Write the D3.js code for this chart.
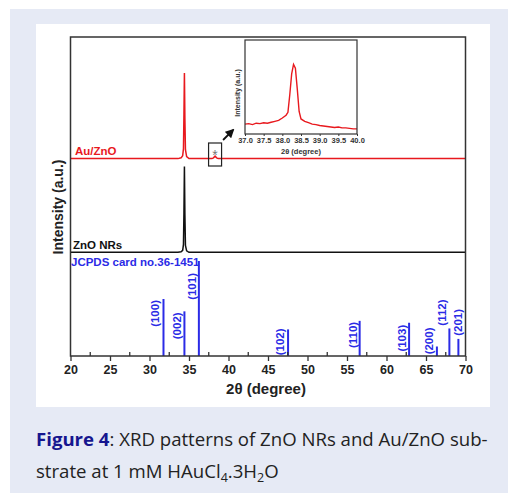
<!DOCTYPE html>
<html>
<head>
<meta charset="utf-8">
<script src="https://cdn.jsdelivr.net/npm/d3@7"></script>
<style>
  body { margin: 0; background: #fff; }
  text { font-family: "Liberation Sans", Arial, sans-serif; }
</style>
</head>
<body>
<svg id="fig" width="508" height="493"></svg>
<script>
// ---- data ----
// main XRD traces (2theta in degree, intensity a.u. before stacking offset)
var mainTheta   = [20, 33.6, 34.0, 34.2, 34.3, 34.36, 34.42, 34.48, 34.55, 34.7, 35.0, 37.9, 38.1, 38.3, 38.5, 38.7, 70];
var znoNRs      = [0, 0, 0.5, 2, 8, 40, 86, 38, 7, 1.5, 0, 0, 0, 0, 0, 0, 0];
var auZnO       = [0, 0, 0.8, 3, 10, 44, 86, 40, 9, 2, 0, 0, 0.8, 2.5, 0.8, 0, 0];
var znoOffset = 104, auOffset = 198;

// JCPDS card no.36-1451 reference lines
var refTheta = [31.77, 34.42, 36.25, 47.54, 56.60, 62.86, 66.38, 67.96, 69.10];
var refInt   = [60, 47, 100, 28, 37, 35, 10, 29, 18];
var refHkl   = ["(100)", "(002)", "(101)", "(102)", "(110)", "(103)", "(200)", "(112)", "(201)"];

// inset: Au(111) region
var insetTheta = [37.0, 37.1, 37.2, 37.3, 37.4, 37.5, 37.6, 37.7, 37.8, 37.9, 38.0, 38.1, 38.15, 38.2, 38.25, 38.3, 38.35, 38.4, 38.45, 38.5, 38.6, 38.7, 38.8, 38.9, 39.0, 39.1, 39.2, 39.3, 39.4, 39.5, 39.6, 39.7, 39.8, 39.9, 40.0];
var insetInt   = [10.5, 11, 10, 11.5, 11, 12, 11.5, 12.5, 13.5, 14.5, 17, 20, 23, 42, 64, 74, 70, 48, 24, 16, 13.5, 12, 10.5, 10, 9, 8.5, 8, 7.5, 7, 7.5, 6.5, 6.5, 6, 5.5, 5.5];

var xTicks = [20, 25, 30, 35, 40, 45, 50, 55, 60, 65, 70];
var xMinor = [22.5, 27.5, 32.5, 37.5, 42.5, 47.5, 52.5, 57.5, 62.5, 67.5];
var insetTicks = [37.0, 37.5, 38.0, 38.5, 39.0, 39.5, 40.0];

var red = "#e8191e", blue = "#2b2be6", dark = "#333";

var svg = d3.select("#fig");

// page panels
svg.append("rect").attr("x", 10).attr("y", 9).attr("width", 498).attr("height", 484).attr("fill", "#e6eaf5");
svg.append("rect").attr("x", 36).attr("y", 24).attr("width", 454).attr("height", 383).attr("fill", "#fff");

// scales
var x = d3.scaleLinear().domain([20, 70]).range([70.5, 465.5]);
var y = d3.scaleLinear().domain([0, 320]).range([356, 37]);
var yRef = d3.scaleLinear().domain([0, 100]).range([356, 261]);

var line = function(off) {
  return d3.line()
    .x(function(d) { return x(d[0]); })
    .y(function(d) { return y(d[1] + off); });
};

// traces
svg.append("path")
  .datum(d3.zip(mainTheta, znoNRs))
  .attr("d", line(znoOffset))
  .attr("fill", "none").attr("stroke", "#111").attr("stroke-width", 1.5);

svg.append("path")
  .datum(d3.zip(mainTheta, auZnO))
  .attr("d", line(auOffset))
  .attr("fill", "none").attr("stroke", red).attr("stroke-width", 1.5);

// reference lines
var ref = svg.append("g");
ref.selectAll("line")
  .data(d3.range(refTheta.length))
  .enter().append("line")
  .attr("x1", function(i) { return x(refTheta[i]); })
  .attr("x2", function(i) { return x(refTheta[i]); })
  .attr("y1", yRef(0))
  .attr("y2", function(i) { return yRef(refInt[i]); })
  .attr("stroke", blue).attr("stroke-width", 2);

// label placement next to each line (px)
var hklDx  = [-8, -7, -7, -8, -7, -7, -8, -7, 0];
var hklTop = [1, 1, 12, -1, 1, 2, -19, -29, -30];
ref.selectAll("text")
  .data(d3.range(refTheta.length))
  .enter().append("text")
  .attr("transform", function(i) {
    return "translate(" + (x(refTheta[i]) + hklDx[i] + 4) + "," + (yRef(refInt[i]) + hklTop[i]) + ") rotate(-90)";
  })
  .attr("text-anchor", "end")
  .attr("font-size", 11.5).attr("font-weight", "bold").attr("fill", blue)
  .text(function(i) { return refHkl[i]; });

// frame
svg.append("rect")
  .attr("x", x(20)).attr("y", y(320))
  .attr("width", x(70) - x(20)).attr("height", y(0) - y(320))
  .attr("fill", "none").attr("stroke", dark).attr("stroke-width", 1.5);

// x axis: major ticks out, minor ticks in
svg.append("g")
  .attr("transform", "translate(0," + y(0) + ")")
  .call(d3.axisBottom(x).tickValues(xTicks).tickSize(5).tickPadding(4).tickFormat(d3.format("d")))
  .call(function(g) {
    g.select(".domain").remove();
    g.selectAll("line").attr("stroke", dark).attr("stroke-width", 1.3);
    g.selectAll("text").attr("font-size", 12.5).attr("font-weight", "bold").attr("fill", "#222")
      .attr("font-family", "Liberation Sans, Arial, sans-serif");
  });
svg.append("g").selectAll("line")
  .data(xMinor).enter().append("line")
  .attr("x1", x).attr("x2", x)
  .attr("y1", y(0)).attr("y2", y(0) - 4)
  .attr("stroke", dark).attr("stroke-width", 1.3);

svg.append("text")
  .attr("x", (x(20) + x(70)) / 2 - 2).attr("y", 394)
  .attr("text-anchor", "middle").attr("font-size", 15).attr("font-weight", "bold").attr("fill", "#222")
  .text("2θ (degree)");

svg.append("text")
  .attr("transform", "translate(63,207) rotate(-90)")
  .attr("text-anchor", "middle").attr("font-size", 14).attr("font-weight", "bold").attr("fill", "#222")
  .text("Intensity (a.u.)");

// trace labels
svg.append("text").attr("x", 75).attr("y", 155).attr("font-size", 11.5).attr("font-weight", "bold")
  .attr("fill", red).text("Au/ZnO");
svg.append("text").attr("x", 73).attr("y", 249).attr("font-size", 11.5).attr("font-weight", "bold")
  .attr("fill", "#111").text("ZnO NRs");
svg.append("text").attr("x", 71).attr("y", 266).attr("font-size", 11.5).attr("font-weight", "bold")
  .attr("fill", blue).text("JCPDS card no.36-1451");

// marker box around the small Au peak + arrow
var bx = x(38.3);
svg.append("rect").attr("x", bx - 6.5).attr("y", 143).attr("width", 13).attr("height", 23)
  .attr("fill", "none").attr("stroke", "#222").attr("stroke-width", 1.2);
svg.append("text").attr("x", bx).attr("y", 160).attr("text-anchor", "middle")
  .attr("font-size", 14).attr("fill", "#777").text("*");

svg.append("defs").append("marker")
  .attr("id", "arr").attr("viewBox", "0 0 10 10").attr("refX", 8).attr("refY", 5)
  .attr("markerWidth", 5).attr("markerHeight", 5).attr("orient", "auto")
  .append("path").attr("d", "M0,0L10,5L0,10Z").attr("fill", "#111");
svg.append("line").attr("x1", bx + 8).attr("y1", 140).attr("x2", bx + 18).attr("y2", 130)
  .attr("stroke", "#111").attr("stroke-width", 1.8).attr("marker-end", "url(#arr)");

// ---- inset ----
var xi = d3.scaleLinear().domain([37, 40]).range([245, 357]);
var yi = d3.scaleLinear().domain([0, 100]).range([134, 40]);

svg.append("path")
  .datum(d3.zip(insetTheta, insetInt))
  .attr("d", d3.line().x(function(d) { return xi(d[0]); }).y(function(d) { return yi(d[1]); }))
  .attr("fill", "none").attr("stroke", red).attr("stroke-width", 1.4);

svg.append("rect").attr("x", 245).attr("y", 40).attr("width", 112).attr("height", 94)
  .attr("fill", "none").attr("stroke", dark).attr("stroke-width", 1.2);

svg.append("g")
  .attr("transform", "translate(0," + yi(0) + ")")
  .call(d3.axisBottom(xi).tickValues(insetTicks).tickSize(2).tickPadding(2).tickFormat(d3.format(".1f")))
  .call(function(g) {
    g.select(".domain").remove();
    g.selectAll("line").attr("stroke", dark);
    g.selectAll("text").attr("font-size", 7.5).attr("font-weight", "bold").attr("fill", "#333")
      .attr("font-family", "Liberation Sans, Arial, sans-serif");
  });

svg.append("text").attr("x", 301).attr("y", 154).attr("text-anchor", "middle")
  .attr("font-size", 7.5).attr("font-weight", "bold").attr("fill", "#333").text("2θ (degree)");
svg.append("text").attr("transform", "translate(240,93) rotate(-90)").attr("text-anchor", "middle")
  .attr("font-size", 7).attr("font-weight", "bold").attr("fill", "#333").text("Intensity (a.u.)");

// ---- caption ----
var cap = svg.append("g").attr("font-size", 18.6).attr("fill", "#222");
var l1 = cap.append("text").attr("x", 36).attr("y", 446).style("font-family", "'Open Sans', sans-serif");
l1.append("tspan").attr("font-weight", "bold").attr("fill", "#16168f").text("Figure 4");
l1.append("tspan").text(": XRD patterns of ZnO NRs and Au/ZnO sub-");
var l2 = cap.append("text").attr("x", 36).attr("y", 478).style("font-family", "'Open Sans', sans-serif");
l2.append("tspan").text("strate at 1 mM HAuCl");
l2.append("tspan").attr("font-size", 12.5).attr("dy", 4).text("4");
l2.append("tspan").attr("dy", -4).text(".3H");
l2.append("tspan").attr("font-size", 12.5).attr("dy", 4).text("2");
l2.append("tspan").attr("dy", -4).text("O");
</script>
</body>
</html>
